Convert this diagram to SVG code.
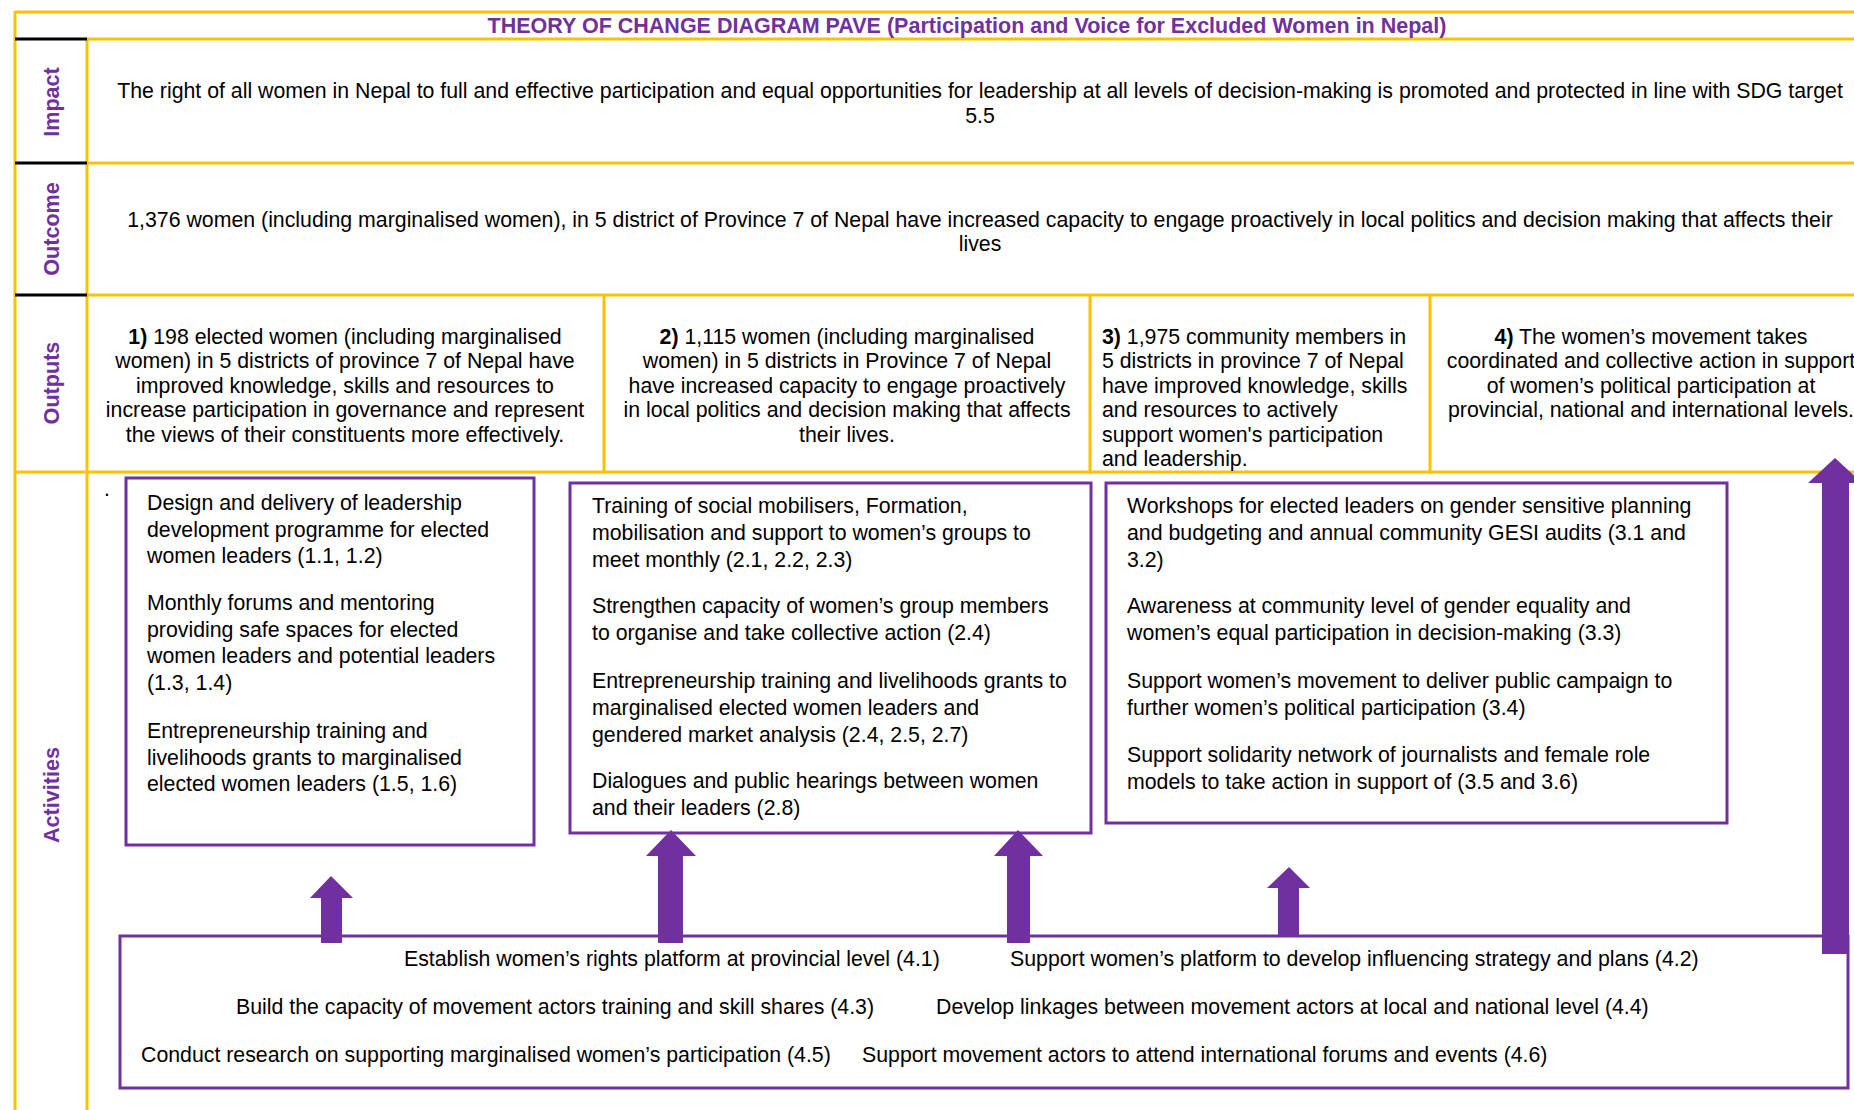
<svg xmlns="http://www.w3.org/2000/svg" width="1854" height="1110" viewBox="0 0 1854 1110">
<style>
.t{font-family:"Liberation Sans",Arial,sans-serif;font-size:21.3px;fill:#000}
.c{text-anchor:middle}
.lab{font-family:"Liberation Sans",Arial,sans-serif;font-size:21.6px;font-weight:bold;fill:#7030A0;text-anchor:middle}
.ttl{font-family:"Liberation Sans",Arial,sans-serif;font-size:21.5px;font-weight:bold;fill:#7030A0;text-anchor:middle}
.y{stroke:#FFC000;stroke-width:3;fill:none}
.k{stroke:#000;stroke-width:3;fill:none}
.box{fill:#fff;stroke:#7030A0;stroke-width:3}
.arr{fill:#7030A0}
</style>
<rect width="1854" height="1110" fill="#fff"/>
<g id="frame">
<line class="y" x1="15" y1="12" x2="1854" y2="12"/>
<line class="y" x1="15" y1="11" x2="15" y2="1110"/>
<line class="y" x1="87" y1="39" x2="1854" y2="39"/>
<line class="y" x1="87" y1="38" x2="87" y2="1110"/>
<line class="y" x1="87" y1="163" x2="1854" y2="163"/>
<line class="y" x1="87" y1="295" x2="1854" y2="295"/>
<line class="y" x1="15" y1="472" x2="1854" y2="472"/>
<line class="y" x1="604" y1="295" x2="604" y2="472"/>
<line class="y" x1="1090" y1="295" x2="1090" y2="472"/>
<line class="y" x1="1430" y1="295" x2="1430" y2="472"/>
<line class="k" x1="15" y1="39" x2="87" y2="39"/>
<line class="k" x1="15" y1="163" x2="87" y2="163"/>
<line class="k" x1="15" y1="295" x2="87" y2="295"/>
</g>
<g id="title"><text class="ttl" x="967" y="33">THEORY OF CHANGE DIAGRAM PAVE (Participation and Voice for Excluded Women in Nepal)</text></g>
<g id="labels">
<text class="lab" transform="translate(59,102) rotate(-90)">Impact</text>
<text class="lab" transform="translate(59,229) rotate(-90)">Outcome</text>
<text class="lab" transform="translate(59,383) rotate(-90)">Outputs</text>
<text class="lab" transform="translate(59,795) rotate(-90)">Activities</text>
</g>
<g id="impact">
<text class="t c" x="980" y="98">The right of all women in Nepal to full and effective participation and equal opportunities for leadership at all levels of decision-making is promoted and protected in line with SDG target</text>
<text class="t c" x="980" y="123">5.5</text>
</g>
<g id="outcome">
<text class="t c" x="980" y="227">1,376 women (including marginalised women), in 5 district of Province 7 of Nepal have increased capacity to engage proactively in local politics and decision making that affects their</text>
<text class="t c" x="980" y="251">lives</text>
</g>
<g id="output1">
<text class="t c" x="345" y="343.5"><tspan font-weight="bold">1)</tspan> 198 elected women (including marginalised</text>
<text class="t c" x="345" y="368">women) in 5 districts of province 7 of Nepal have</text>
<text class="t c" x="345" y="392.5">improved knowledge, skills and resources to</text>
<text class="t c" x="345" y="417">increase participation in governance and represent</text>
<text class="t c" x="345" y="441.5">the views of their constituents more effectively.</text>
</g>
<g id="output2">
<text class="t c" x="847" y="343.5"><tspan font-weight="bold">2)</tspan> 1,115 women (including marginalised</text>
<text class="t c" x="847" y="368">women) in 5 districts in Province 7 of Nepal</text>
<text class="t c" x="847" y="392.5">have increased capacity to engage proactively</text>
<text class="t c" x="847" y="417">in local politics and decision making that affects</text>
<text class="t c" x="847" y="441.5">their lives.</text>
</g>
<g id="output3">
<text class="t" x="1102" y="343.5"><tspan font-weight="bold">3)</tspan> 1,975 community members in</text>
<text class="t" x="1102" y="368">5 districts in province 7 of Nepal</text>
<text class="t" x="1102" y="392.5">have improved knowledge, skills</text>
<text class="t" x="1102" y="417">and resources to actively</text>
<text class="t" x="1102" y="441.5">support women's participation</text>
<text class="t" x="1102" y="465.5">and leadership.</text>
</g>
<g id="output4">
<text class="t c" x="1651" y="343.5"><tspan font-weight="bold">4)</tspan> The women’s movement takes</text>
<text class="t c" x="1651" y="368">coordinated and collective action in support</text>
<text class="t c" x="1651" y="392.5">of women’s political participation at</text>
<text class="t c" x="1651" y="417">provincial, national and international levels.</text>
</g>
<text class="t" x="104" y="496">.</text>
<g id="activity1">
<rect class="box" x="126" y="478" width="408" height="367"/>
<text class="t" x="147" y="510">Design and delivery of leadership</text>
<text class="t" x="147" y="536.5">development programme for elected</text>
<text class="t" x="147" y="563">women leaders (1.1, 1.2)</text>
<text class="t" x="147" y="610">Monthly forums and mentoring</text>
<text class="t" x="147" y="636.5">providing safe spaces for elected</text>
<text class="t" x="147" y="663">women leaders and potential leaders</text>
<text class="t" x="147" y="689.5">(1.3, 1.4)</text>
<text class="t" x="147" y="738">Entrepreneurship training and</text>
<text class="t" x="147" y="764.5">livelihoods grants to marginalised</text>
<text class="t" x="147" y="791">elected women leaders (1.5, 1.6)</text>
</g>
<g id="activity2">
<rect class="box" x="570" y="483" width="521" height="350"/>
<text class="t" x="592" y="513">Training of social mobilisers, Formation,</text>
<text class="t" x="592" y="540">mobilisation and support to women’s groups to</text>
<text class="t" x="592" y="567">meet monthly (2.1, 2.2, 2.3)</text>
<text class="t" x="592" y="613">Strengthen capacity of women’s group members</text>
<text class="t" x="592" y="640">to organise and take collective action (2.4)</text>
<text class="t" x="592" y="688">Entrepreneurship training and livelihoods grants to</text>
<text class="t" x="592" y="715">marginalised elected women leaders and</text>
<text class="t" x="592" y="742">gendered market analysis (2.4, 2.5, 2.7)</text>
<text class="t" x="592" y="788">Dialogues and public hearings between women</text>
<text class="t" x="592" y="815">and their leaders (2.8)</text>
</g>
<g id="activity3">
<rect class="box" x="1106" y="483" width="621" height="340"/>
<text class="t" x="1127" y="513">Workshops for elected leaders on gender sensitive planning</text>
<text class="t" x="1127" y="540">and budgeting and annual community GESI audits (3.1 and</text>
<text class="t" x="1127" y="567">3.2)</text>
<text class="t" x="1127" y="613">Awareness at community level of gender equality and</text>
<text class="t" x="1127" y="640">women’s equal participation in decision-making (3.3)</text>
<text class="t" x="1127" y="688">Support women’s movement to deliver public campaign to</text>
<text class="t" x="1127" y="715">further women’s political participation (3.4)</text>
<text class="t" x="1127" y="762">Support solidarity network of journalists and female role</text>
<text class="t" x="1127" y="789">models to take action in support of (3.5 and 3.6)</text>
</g>
<g id="activity4">
<rect class="box" x="120" y="936" width="1728" height="152"/>
<text class="t" x="404" y="966">Establish women’s rights platform at provincial level (4.1)</text>
<text class="t" x="1010" y="966">Support women’s platform to develop influencing strategy and plans (4.2)</text>
<text class="t" x="236" y="1014">Build the capacity of movement actors training and skill shares (4.3)</text>
<text class="t" x="936" y="1014">Develop linkages between movement actors at local and national level (4.4)</text>
<text class="t" x="141" y="1062">Conduct research on supporting marginalised women’s participation (4.5)</text>
<text class="t" x="862" y="1062">Support movement actors to attend international forums and events (4.6)</text>
</g>
<g id="connectors">
<polygon class="arr" points="321,943 321,898 310,898 331,876 353,898 342,898 342,943"/>
<polygon class="arr" points="658,943 658,856 646,856 671,830 696,856 683,856 683,943"/>
<polygon class="arr" points="1007,943 1007,856 994,856 1018,830 1043,856 1030,856 1030,943"/>
<polygon class="arr" points="1278,935 1278,888 1267,888 1289,867 1310,888 1299,888 1299,935"/>
<polygon class="arr" points="1822,954 1822,483 1808,483 1835,458 1862,483 1849,483 1849,954"/>
</g>
</svg>
